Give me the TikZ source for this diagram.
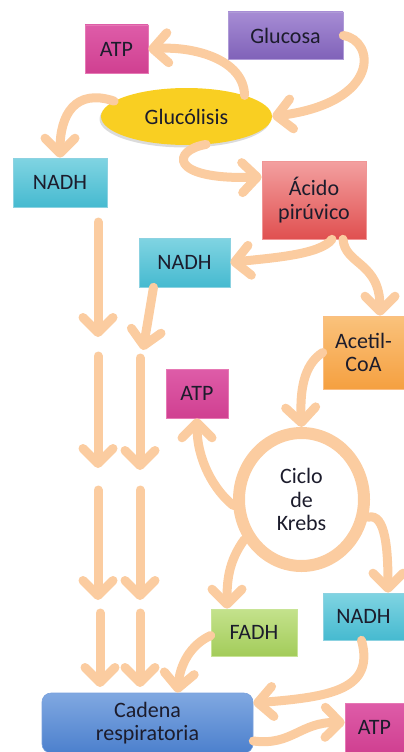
\documentclass[tikz,border=0pt]{standalone}
\usepackage{fontspec}
\setmainfont{Carlito}
\usetikzlibrary{arrows.meta,shapes.geometric,calc}
\definecolor{peach}{HTML}{FBCCA0}
\definecolor{txt}{HTML}{1C1C2C}
\begin{document}
\begin{tikzpicture}[x=1pt,y=-1pt,
  flow/.style={draw=peach,line width=9pt,line cap=round,-{Straight Barb[length=15pt,width=30pt,round]}},
  lbl/.style={text=txt,font=\fontsize{22}{23.5}\selectfont},
  box/.style={rectangle,inner sep=0pt,align=center,lbl,line width=0.6pt},
]
\useasboundingbox (0,0) rectangle (404,752);
% nodes
\node[box,minimum width=115pt,minimum height=47pt,top color={rgb,255:red,166;green,140;blue,212},bottom color={rgb,255:red,128;green,98;blue,185},draw={rgb,255:red,175;green,155;blue,215}] (glucosa) at (285.5,35.5) {Glucosa};
\node[box,minimum width=63pt,minimum height=48pt,top color={rgb,255:red,222;green,92;blue,168},bottom color={rgb,255:red,208;green,64;blue,145},draw={rgb,255:red,230;green,120;blue,180}] (atpa) at (116.5,49) {ATP};
\fill[black!40,opacity=0.35] (185,119) ellipse [x radius=85.5pt, y radius=28.5pt];
\node[ellipse,inner sep=0pt,minimum width=171pt,minimum height=57pt,fill={rgb,255:red,249;green,207;blue,34},lbl] (glyc) at (186.5,116.5) {Glucólisis};
\node[box,minimum width=94pt,minimum height=49pt,top color={rgb,255:red,128;green,212;blue,226},bottom color={rgb,255:red,70;green,186;blue,208},draw={rgb,255:red,140;green,210;blue,225}] (nadha) at (60,182.5) {NADH};
\node[box,minimum width=104pt,minimum height=78pt,top color={rgb,255:red,243;green,160;blue,160},bottom color={rgb,255:red,224;green,80;blue,80},draw={rgb,255:red,240;green,150;blue,150}] (acido) at (314,200) {Ácido\\pirúvico};
\node[box,minimum width=91pt,minimum height=49pt,top color={rgb,255:red,128;green,212;blue,226},bottom color={rgb,255:red,70;green,186;blue,208},draw={rgb,255:red,140;green,210;blue,225}] (nadhb) at (184.5,262.5) {NADH};
\node[box,minimum width=81pt,minimum height=73pt,top color={rgb,255:red,250;green,194;blue,124},bottom color={rgb,255:red,245;green,160;blue,64},draw={rgb,255:red,250;green,190;blue,130}] (acetil) at (363.5,352.5) {Acetil-\\CoA};
\node[box,minimum width=62pt,minimum height=49pt,top color={rgb,255:red,222;green,92;blue,168},bottom color={rgb,255:red,208;green,64;blue,145},draw={rgb,255:red,230;green,120;blue,180}] (atpb) at (197,393.5) {ATP};
\node[ellipse,inner sep=0pt,minimum width=125pt,minimum height=133pt,draw=peach,line width=12pt,align=center,lbl] (krebs) at (301.5,499.5) {Ciclo\\de\\Krebs};
\node[box,minimum width=86pt,minimum height=47pt,top color={rgb,255:red,196;green,226;blue,140},bottom color={rgb,255:red,163;green,204;blue,90},draw={rgb,255:red,200;green,228;blue,150}] (fadh) at (254,632.5) {FADH};
\node[box,minimum width=81pt,minimum height=47pt,top color={rgb,255:red,128;green,212;blue,226},bottom color={rgb,255:red,70;green,186;blue,208},draw={rgb,255:red,140;green,210;blue,225}] (nadhc) at (363.5,616.5) {NADH};
\node[box,rounded corners=9pt,minimum width=211pt,minimum height=60pt,top color={rgb,255:red,128;green,168;blue,225},bottom color={rgb,255:red,76;green,128;blue,205},draw={rgb,255:red,120;green,160;blue,220}] (cadena) at (147.5,723) {Cadena\\respiratoria};
\node[box,minimum width=59pt,minimum height=49pt,top color={rgb,255:red,222;green,92;blue,168},bottom color={rgb,255:red,208;green,64;blue,145},draw={rgb,255:red,230;green,120;blue,180}] (atpc) at (374.5,727.5) {ATP};
% free ends of the broken columns
\coordinate (l1s) at (98,222); \coordinate (l1e) at (98,337);
\coordinate (l2s) at (98,356); \coordinate (l2e) at (98,468);
\coordinate (l3s) at (98,490); \coordinate (l3e) at (98,600);
\coordinate (l4s) at (100,613); \coordinate (l4e) at (100,687);
\coordinate (m2s) at (140,358); \coordinate (m2e) at (140,470);
\coordinate (m3s) at (140,490); \coordinate (m3e) at (140,600);
\coordinate (m4s) at (140,613); \coordinate (m4e) at (140,687);
\coordinate (m1e) at (143,350);
% connectors
\draw[flow] (glucosa.east) .. controls (375,40) and (382,102) .. (glyc.east);
\draw[flow] (glyc.20) .. controls (244,60) and (195,46) .. (atpa.east);
\draw[flow] (glyc.168) .. controls (75,88) and (60,115) .. (nadha.north);
\draw[flow] (glyc.-55) .. controls (172,150) and (168,180) .. ([yshift=23pt]acido.west);
\draw[flow] ([xshift=18pt]acido.south) .. controls (320,255) and (270,258) .. (nadhb.east);
\draw[flow] ([xshift=29pt]acido.south) .. controls (345,265) and (380,262) .. ([xshift=16.5pt]acetil.north);
\draw[flow] (acetil.west) .. controls (303,365) and (300,392) .. (krebs.north);
\draw[flow] (krebs.185) .. controls (214,490) and (197,460) .. (atpb.south);
\draw[flow] (krebs.215) .. controls (228,562) and (227,582) .. ([xshift=-27pt]fadh.north);
\draw[flow] (krebs.-15) .. controls (386,512) and (388,552) .. ([xshift=24.5pt]nadhc.north);
\draw[flow] ([xshift=-2pt]nadhc.south) .. controls (375,690) and (330,697) .. ([yshift=20pt]cadena.east);
\draw[flow] ([yshift=-3pt]fadh.west) .. controls (190,645) and (180,665) .. ([xshift=30pt]cadena.north);
\draw[flow] ([yshift=-18pt]cadena.east) .. controls (292,746) and (300,722) .. ([yshift=5pt]atpc.west);
\draw[flow] (l1s) -- (l1e);
\draw[flow] (l2s) -- (l2e);
\draw[flow] (l3s) -- (l3e);
\draw[flow] (l4s) -- (l4e);
\draw[flow] ([xshift=-31pt]nadhb.south) -- (m1e);
\draw[flow] (m2s) -- (m2e);
\draw[flow] (m3s) -- (m3e);
\draw[flow] (m4s) -- (m4e);
\end{tikzpicture}
\end{document}
